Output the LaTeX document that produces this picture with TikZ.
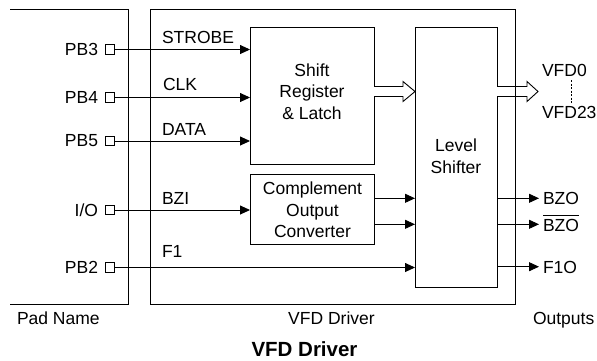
\documentclass[tikz,border=0pt]{standalone}
\usepackage{fontspec}
\setmainfont{Liberation Sans}
\usetikzlibrary{arrows.meta}
\newcommand\ovlbar[1]{\leavevmode\vbox{\hrule height 0.7pt\kern3.2pt\hbox{#1}}}
\begin{document}
\begin{tikzpicture}[x=1pt,y=-1pt,
  line width=0.9pt,
  every node/.style={font=\fontsize{17.5}{21.5}\selectfont, inner sep=0pt, outer sep=0pt},
  blk/.style={draw, rectangle},
  pin/.style={draw, rectangle, minimum size=9.5pt, line width=0.8pt},
  arr/.style={-{Triangle[length=10pt,width=9pt]}},
  lbl/.style={anchor=base west},
  plbl/.style={anchor=base east},
  hollow/.style={line width=0.9pt, fill=white}]
\useasboundingbox (0,0) rectangle (597,360);

% pad area and driver frame
\draw (10,9.5) -- (128.5,9.5) -- (128.5,304) -- (10,304);
\node[blk, minimum width=365pt, minimum height=294.5pt] (drv) at (332.5,156.75) {};

% blocks
\node[blk, minimum width=124pt, minimum height=137pt] (sr) at (312,95.5) {};
\node[blk, minimum width=124pt, minimum height=70pt] (cc) at (312,209) {};
\node[blk, minimum width=82pt, minimum height=260pt] (ls) at (456,157) {};

\node[align=center] (srt) at (312,91.5) {Shift\\Register\\\& Latch};
\node[align=center] (cct) at (312.5,210) {Complement\\Output\\Converter};
\node[align=center] (lst) at (456,156) {Level\\Shifter};

% pins
\node[pin] (p3) at (110,49.5) {};
\node[pin] (p4) at (110,97.5) {};
\node[pin] (p5) at (110,141) {};
\node[pin] (pio) at (110,210) {};
\node[pin] (p2) at (110,267.5) {};

\node[plbl] (l3) at (98,55) {PB3};
\node[plbl] (l4) at (98,103) {PB4};
\node[plbl] (l5) at (98,146.5) {PB5};
\node[plbl] (lio) at (98,216) {I/O};
\node[plbl] (l2) at (98,273.5) {PB2};

% input arrows
\draw[arr] (p3.east) -- (p3.east -| sr.west);
\draw[arr] (p4.east) -- (p4.east -| sr.west);
\draw[arr] (p5.east) -- (p5.east -| sr.west);
\draw[arr] (pio.east) -- (pio.east -| cc.west);
\draw[arr] (p2.east) -- (p2.east -| ls.west);

\node[lbl] (s1) at (162,43) {STROBE};
\node[lbl] (s2) at (163,90) {CLK};
\node[lbl] (s3) at (162,135.5) {DATA};
\node[lbl] (s4) at (162,204) {BZI};
\node[lbl] (s5) at (162,257) {F1};

% complement -> level shifter
\draw[arr] ([yshift=10.7pt]cc.east) -- ([yshift=10.7pt]cc.east -| ls.west);
\draw[arr] ([yshift=-15.3pt]cc.east) -- ([yshift=-15.3pt]cc.east -| ls.west);

% hollow bus arrows
\draw[hollow] (sr.east |- 0,86.5) -- (403,86.5) -- (403,81.5) -- (ls.west |- 0,91.5)
  -- (403,101.5) -- (403,96.5) -- (sr.east |- 0,96.5);
\draw[hollow] (ls.east |- 0,86.5) -- (527,86.5) -- (527,81.5) -- (538,91.5)
  -- (527,101.5) -- (527,96.5) -- (ls.east |- 0,96.5);
\draw (515,86.5) -- (515,96.5);

% outputs
\coordinate (o1) at (539,198.3);
\coordinate (o2) at (539,224.3);
\coordinate (o3) at (539,266.7);
\draw[arr] (ls.east |- o1) -- (o1);
\draw[arr] (ls.east |- o2) -- (o2);
\draw[arr] (ls.east |- o3) -- (o3);
\node[lbl] (b1) at (543,204.5) {BZO};
\node[lbl] (b2) at (543,231.5) {\ovlbar{BZO}};
\node[lbl] (b3) at (543,273.5) {F1O};

\node[lbl] (v0) at (542,76) {VFD0};
\node[lbl] (v23) at (542,118) {VFD23};
\draw[line width=0.8pt, dash pattern=on 2pt off 1.5pt] (571,80) -- (571,104);

% bottom labels
\node[lbl] (pn) at (17,324) {Pad Name};
\node[anchor=base] (dn) at (331.5,324.5) {VFD Driver};
\node[lbl] (on) at (533,324) {Outputs};
\node[anchor=base, font=\fontsize{20.5}{24}\selectfont\bfseries] (tt) at (304.5,356.5) {VFD Driver};
\end{tikzpicture}
\end{document}
